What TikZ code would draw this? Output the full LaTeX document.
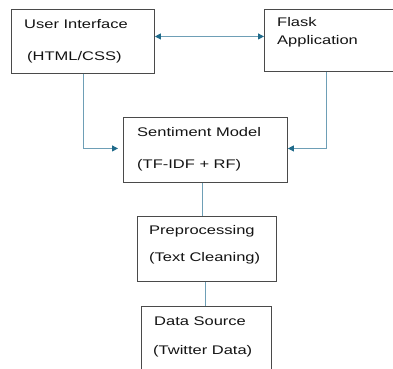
\documentclass[tikz,border=0pt]{standalone}
\usepackage{fontspec}
\setmainfont[FakeStretch=1.32]{Liberation Sans}
\usetikzlibrary{arrows.meta,calc}
\definecolor{boxline}{HTML}{4A4A4A}
\definecolor{connline}{HTML}{6E9FB6}
\definecolor{tipcol}{HTML}{1F6A8A}
\tikzset{
  box/.style={draw=boxline, line width=0.9pt, rectangle, anchor=north west, inner sep=0pt},
  lbl/.style={anchor=base west, inner sep=0pt, font=\fontsize{12.5}{15}\selectfont, text=black!92},
  conn/.style={draw=connline, line width=0.9pt},
  tip/.style={-{Stealth[length=6pt,width=6pt,inset=0pt,color=tipcol]}},
  tips/.style={{Stealth[length=6pt,width=6pt,inset=0pt,color=tipcol]}-{Stealth[length=6pt,width=6pt,inset=0pt,color=tipcol]}}
}
\begin{document}
\begin{tikzpicture}[x=1pt,y=-1pt]
\useasboundingbox (0,0) rectangle (393,368);
\clip (0,0) rectangle (393,368);
\fill[white] (0,0) rectangle (393,368);
% boxes
\node[box, minimum width=143pt, minimum height=64pt] (ui) at (11,9) {};
\node[box, minimum width=200pt, minimum height=62pt] (flask) at (264,9) {};
\node[box, minimum width=164pt, minimum height=65pt] (sent) at (123,117) {};
\node[box, minimum width=139pt, minimum height=65pt] (pre) at (137,216) {};
\node[box, minimum width=130pt, minimum height=70pt] (data) at (141,306) {};
% labels
\node[lbl] (ui1) at (24,28) {User Interface};
\node[lbl] (ui2) at (27,60) {(HTML/CSS)};
\node[lbl] (fl1) at (277,26.7) {Flask};
\node[lbl] (fl2) at (277,44.3) {Application};
\node[lbl] (se1) at (137,136.7) {Sentiment Model};
\node[lbl] (se2) at (137,168.3) {(TF-IDF + RF)};
\node[lbl] (pr1) at (149,234.3) {Preprocessing};
\node[lbl] (pr2) at (149,261.7) {(Text Cleaning)};
\node[lbl] (da1) at (154,325.7) {Data Source};
\node[lbl] (da2) at (153,354) {(Twitter Data)};
% connectors
\draw[conn,tips] ([yshift=5pt]ui.east) -- ([yshift=5pt]ui.east -| flask.west);
\draw[conn,tip,shorten >=5pt] (ui.south) |- ([yshift=1.5pt]sent.west);
\draw[conn,tip] ([xshift=-38pt]flask.south) |- ([yshift=1.5pt]sent.east);
\draw[conn] ([xshift=-3pt]sent.south) -- ([xshift=-3pt]sent.south |- pre.north);
\draw[conn] ([xshift=-1.5pt]pre.south) -- ([xshift=-1.5pt]pre.south |- data.north);
\end{tikzpicture}
\end{document}
